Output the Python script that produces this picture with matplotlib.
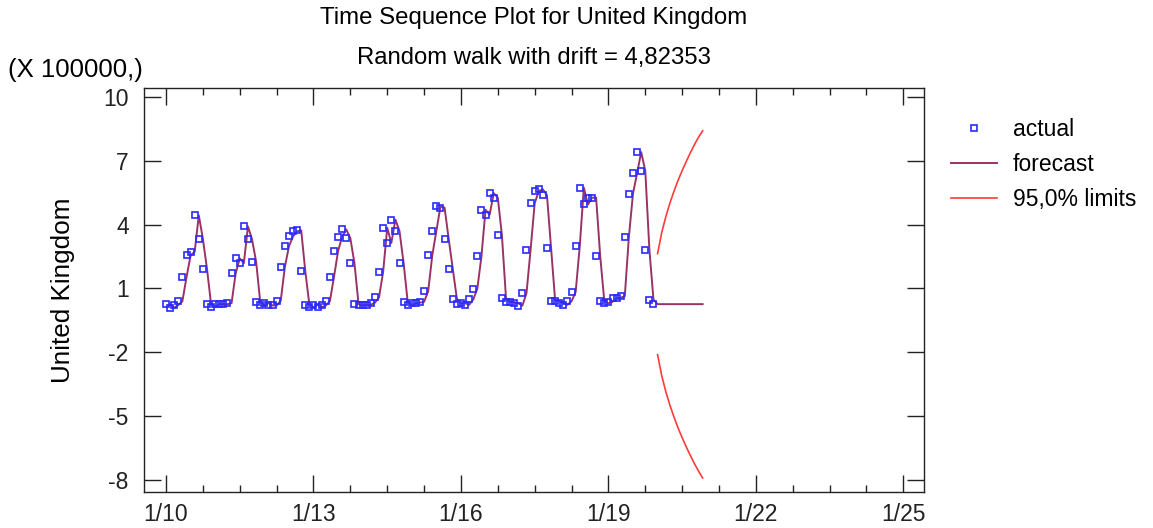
import matplotlib
matplotlib.use("Agg")
import matplotlib.pyplot as plt
from matplotlib.ticker import FixedLocator, NullFormatter
import numpy as np

plt.rcParams['font.family'] = ['Liberation Sans', 'DejaVu Sans']

# Monthly observations, Jan 2010 .. Dec 2019, in units of 100000
actual_2010 = [0.26, 0.09, 0.22, 0.40, 1.52, 2.55, 2.72, 4.43, 3.33, 1.92, 0.26, 0.14]
actual_2011 = [0.26, 0.26, 0.26, 0.31, 1.70, 2.41, 2.19, 3.91, 3.30, 2.25, 0.36, 0.20]
actual_2012 = [0.31, 0.20, 0.20, 0.42, 1.99, 2.97, 3.44, 3.68, 3.72, 1.81, 0.23, 0.12]
actual_2013 = [0.23, 0.11, 0.20, 0.40, 1.53, 2.75, 3.43, 3.77, 3.35, 2.19, 0.26, 0.20]
actual_2014 = [0.23, 0.23, 0.33, 0.58, 1.77, 3.85, 3.13, 4.23, 3.69, 2.19, 0.36, 0.20]
actual_2015 = [0.31, 0.33, 0.37, 0.87, 2.55, 3.69, 4.85, 4.79, 3.33, 1.92, 0.52, 0.28]
actual_2016 = [0.31, 0.23, 0.48, 0.99, 2.50, 4.69, 4.46, 5.47, 5.26, 3.49, 0.53, 0.36]
actual_2017 = [0.36, 0.30, 0.19, 0.78, 2.82, 5.00, 5.57, 5.65, 5.37, 2.91, 0.42, 0.42]
actual_2018 = [0.30, 0.23, 0.40, 0.83, 2.97, 5.73, 4.94, 5.26, 5.26, 2.50, 0.40, 0.30]
actual_2019 = [0.37, 0.53, 0.56, 0.64, 3.43, 5.45, 6.41, 7.40, 6.52, 2.82, 0.47, 0.26]

drift = 4.82353          # per month, raw units
scale = 100000.0

# 95% limits for the 12 months ahead (Jan 2020 .. Dec 2020), units of 100000
upper_limit = [2.63, 3.61, 4.36, 5.00, 5.56, 6.07, 6.53, 6.96, 7.37, 7.75, 8.10, 8.40]
lower_limit = [-2.11, -3.09, -3.84, -4.48, -5.04, -5.55, -6.01, -6.44, -6.85, -7.23, -7.58, -7.90]

x_tick_years = [2010, 2013, 2016, 2019, 2022, 2025]
x_tick_labels = ["1/10", "1/13", "1/16", "1/19", "1/22", "1/25"]
y_ticks = [-8, -5, -2, 1, 4, 7, 10]

actual = np.array(actual_2010 + actual_2011 + actual_2012 + actual_2013 + actual_2014 +
                  actual_2015 + actual_2016 + actual_2017 + actual_2018 + actual_2019)
n = len(actual)
t_obs = 2010 + np.arange(n) / 12.0
horizon = len(upper_limit)
t_fc = 2010 + (n + np.arange(horizon)) / 12.0

# one-step-ahead forecasts of the random walk, then the out-of-sample path
step = drift / scale
fc_in = actual[:-1] + step
fc_out = actual[-1] + step * np.arange(1, horizon + 1)
t_forecast = np.concatenate([t_obs[1:], t_fc])
forecast = np.concatenate([fc_in, fc_out])

W, H = 1153, 528
fig = plt.figure(figsize=(W / 100, H / 100), dpi=100)
ax = fig.add_axes([144 / W, 1 - 492 / H, (924 - 144) / W, (492 - 88) / H])

fc_color = "#993366"
lim_color = "#ff3b3b"
pt_color = "#2a2aff"

ax.plot(t_forecast, forecast, color=fc_color, lw=1.4, label="forecast", zorder=2)
ax.plot(t_fc, upper_limit, color=lim_color, lw=1.2, label="95,0% limits", zorder=2)
ax.plot(t_fc, lower_limit, color=lim_color, lw=1.2, zorder=2)
ax.plot(t_obs, actual, ls="none", marker="s", ms=4.0, mfc="none", mec=pt_color,
        mew=1.2, label="actual", zorder=3)

ax.set_xlim(2009.552, 2025.42)
ax.set_ylim(-8.56, 10.41)

ax.xaxis.set_major_locator(FixedLocator(x_tick_years))
ax.set_xticklabels(x_tick_labels)
ax.xaxis.set_minor_locator(FixedLocator([y + k * 0.75 for y in x_tick_years[:-1] for k in (1, 2, 3)]))
ax.xaxis.set_minor_formatter(NullFormatter())
ax.set_yticks(y_ticks)
ax.set_yticklabels([str(v) for v in y_ticks])

ax.tick_params(axis="both", which="major", direction="in", length=12, width=1.0,
               labelsize=16.5, top=True, right=True, colors="#222222")
ax.tick_params(axis="x", which="major", pad=8)
ax.tick_params(axis="y", which="major", pad=11)
ax.tick_params(axis="x", which="minor", direction="in", length=5, width=1.0,
               top=True, colors="#222222")
for s in ax.spines.values():
    s.set_color("#222222")
    s.set_linewidth(1.0)

ax.set_ylabel("United Kingdom", fontsize=18.8, labelpad=20)
fig.text(8 / W, 1 - 70 / H, "(X 100000,)", fontsize=18.5, ha="left", va="center")
fig.text(534 / W, 1 - 18 / H, "Time Sequence Plot for United Kingdom", fontsize=17.3,
         ha="center", va="center")
fig.text(534 / W, 1 - 58 / H, "Random walk with drift = 4,82353", fontsize=17.2,
         ha="center", va="center")

handles, labels = ax.get_legend_handles_labels()
order = [labels.index("actual"), labels.index("forecast"), labels.index("95,0% limits")]
leg = ax.legend([handles[i] for i in order], [labels[i] for i in order],
                loc="upper left", bbox_to_anchor=(951 / W, 1 - 118 / H),
                bbox_transform=fig.transFigure, frameon=False, fontsize=16.5,
                handlelength=2.0, handletextpad=0.7, labelspacing=0.52,
                borderaxespad=0, borderpad=0, numpoints=1)

fig.savefig("out.png", dpi=100)
